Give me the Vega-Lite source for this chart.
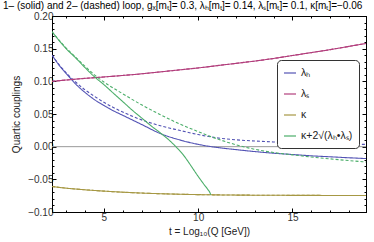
{
  "$schema": "https://vega.github.io/schema/vega-lite/v6.json",
  "width": 314,
  "height": 196,
  "autosize": {"type": "none"},
  "padding": {"left": 52, "top": 16, "right": 8, "bottom": 30},
  "title": {"text": "1– (solid) and 2– (dashed) loop, gₓ[mₜ]= 0.3, λₕ[mₜ]= 0.14, λₛ[mₜ]= 0.1, κ[mₜ]=−0.06", "anchor": "start", "frame": "group", "dx": -49, "offset": 0, "fontSize": 10, "font": "Liberation Sans", "fontWeight": "normal", "color": "#000"},
  "config": {
    "font": "Liberation Sans",
    "view": {"stroke": "#000", "strokeWidth": 1},
    "axis": {"grid": false, "domainColor": "#000", "tickColor": "#000", "labelColor": "#333", "labelFontSize": 10, "titleFontSize": 10, "titleFontWeight": "normal", "titleColor": "#222", "labelFont": "Liberation Sans", "titleFont": "Liberation Sans"}
  },
  "datasets": {
    "zero": [{"v": 0}],
    "curves": [
      {"s": "λₕ", "loop": "1", "t": 2.25, "v": 0.140},
      {"s": "λₕ", "loop": "1", "t": 2.7, "v": 0.122},
      {"s": "λₕ", "loop": "1", "t": 3, "v": 0.112},
      {"s": "λₕ", "loop": "1", "t": 3.5, "v": 0.096},
      {"s": "λₕ", "loop": "1", "t": 4, "v": 0.083},
      {"s": "λₕ", "loop": "1", "t": 4.5, "v": 0.072},
      {"s": "λₕ", "loop": "1", "t": 5, "v": 0.063},
      {"s": "λₕ", "loop": "1", "t": 5.5, "v": 0.055},
      {"s": "λₕ", "loop": "1", "t": 6, "v": 0.048},
      {"s": "λₕ", "loop": "1", "t": 7, "v": 0.034},
      {"s": "λₕ", "loop": "1", "t": 8, "v": 0.020},
      {"s": "λₕ", "loop": "1", "t": 9, "v": 0.0105},
      {"s": "λₕ", "loop": "1", "t": 10, "v": 0.0035},
      {"s": "λₕ", "loop": "1", "t": 11, "v": -0.0012},
      {"s": "λₕ", "loop": "1", "t": 12, "v": -0.0045},
      {"s": "λₕ", "loop": "1", "t": 13, "v": -0.0075},
      {"s": "λₕ", "loop": "1", "t": 14, "v": -0.010},
      {"s": "λₕ", "loop": "1", "t": 15, "v": -0.012},
      {"s": "λₕ", "loop": "1", "t": 16, "v": -0.014},
      {"s": "λₕ", "loop": "1", "t": 17, "v": -0.0155},
      {"s": "λₕ", "loop": "1", "t": 18, "v": -0.017},
      {"s": "λₕ", "loop": "1", "t": 18.9, "v": -0.0182},
      {"s": "λₕ", "loop": "2", "t": 2.25, "v": 0.140},
      {"s": "λₕ", "loop": "2", "t": 2.7, "v": 0.123},
      {"s": "λₕ", "loop": "2", "t": 3, "v": 0.113},
      {"s": "λₕ", "loop": "2", "t": 3.5, "v": 0.099},
      {"s": "λₕ", "loop": "2", "t": 4, "v": 0.087},
      {"s": "λₕ", "loop": "2", "t": 4.5, "v": 0.077},
      {"s": "λₕ", "loop": "2", "t": 5, "v": 0.068},
      {"s": "λₕ", "loop": "2", "t": 5.5, "v": 0.060},
      {"s": "λₕ", "loop": "2", "t": 6, "v": 0.053},
      {"s": "λₕ", "loop": "2", "t": 7, "v": 0.041},
      {"s": "λₕ", "loop": "2", "t": 8, "v": 0.032},
      {"s": "λₕ", "loop": "2", "t": 9, "v": 0.025},
      {"s": "λₕ", "loop": "2", "t": 10, "v": 0.0185},
      {"s": "λₕ", "loop": "2", "t": 11, "v": 0.0135},
      {"s": "λₕ", "loop": "2", "t": 12, "v": 0.0105},
      {"s": "λₕ", "loop": "2", "t": 13, "v": 0.0087},
      {"s": "λₕ", "loop": "2", "t": 14, "v": 0.0072},
      {"s": "λₕ", "loop": "2", "t": 15, "v": 0.006},
      {"s": "λₕ", "loop": "2", "t": 16, "v": 0.005},
      {"s": "λₕ", "loop": "2", "t": 17, "v": 0.0043},
      {"s": "λₕ", "loop": "2", "t": 18, "v": 0.0038},
      {"s": "λₕ", "loop": "2", "t": 18.9, "v": 0.0035},
      {"s": "λₛ", "loop": "1", "t": 2.25, "v": 0.100},
      {"s": "λₛ", "loop": "1", "t": 3, "v": 0.102},
      {"s": "λₛ", "loop": "1", "t": 4, "v": 0.1045},
      {"s": "λₛ", "loop": "1", "t": 5, "v": 0.1067},
      {"s": "λₛ", "loop": "1", "t": 6, "v": 0.109},
      {"s": "λₛ", "loop": "1", "t": 7, "v": 0.1115},
      {"s": "λₛ", "loop": "1", "t": 8, "v": 0.1145},
      {"s": "λₛ", "loop": "1", "t": 9, "v": 0.1175},
      {"s": "λₛ", "loop": "1", "t": 10, "v": 0.1205},
      {"s": "λₛ", "loop": "1", "t": 11, "v": 0.124},
      {"s": "λₛ", "loop": "1", "t": 12, "v": 0.1275},
      {"s": "λₛ", "loop": "1", "t": 13, "v": 0.131},
      {"s": "λₛ", "loop": "1", "t": 14, "v": 0.135},
      {"s": "λₛ", "loop": "1", "t": 15, "v": 0.1395},
      {"s": "λₛ", "loop": "1", "t": 16, "v": 0.144},
      {"s": "λₛ", "loop": "1", "t": 17, "v": 0.1485},
      {"s": "λₛ", "loop": "1", "t": 18, "v": 0.1535},
      {"s": "λₛ", "loop": "1", "t": 18.9, "v": 0.158},
      {"s": "λₛ", "loop": "2", "t": 2.25, "v": 0.100},
      {"s": "λₛ", "loop": "2", "t": 3, "v": 0.102},
      {"s": "λₛ", "loop": "2", "t": 4, "v": 0.1045},
      {"s": "λₛ", "loop": "2", "t": 5, "v": 0.1067},
      {"s": "λₛ", "loop": "2", "t": 6, "v": 0.109},
      {"s": "λₛ", "loop": "2", "t": 7, "v": 0.1115},
      {"s": "λₛ", "loop": "2", "t": 8, "v": 0.1145},
      {"s": "λₛ", "loop": "2", "t": 9, "v": 0.1175},
      {"s": "λₛ", "loop": "2", "t": 10, "v": 0.1205},
      {"s": "λₛ", "loop": "2", "t": 11, "v": 0.124},
      {"s": "λₛ", "loop": "2", "t": 12, "v": 0.1275},
      {"s": "λₛ", "loop": "2", "t": 13, "v": 0.131},
      {"s": "λₛ", "loop": "2", "t": 14, "v": 0.135},
      {"s": "λₛ", "loop": "2", "t": 15, "v": 0.1395},
      {"s": "λₛ", "loop": "2", "t": 16, "v": 0.144},
      {"s": "λₛ", "loop": "2", "t": 17, "v": 0.1485},
      {"s": "λₛ", "loop": "2", "t": 18, "v": 0.1535},
      {"s": "λₛ", "loop": "2", "t": 18.9, "v": 0.158},
      {"s": "κ", "loop": "1", "t": 2.25, "v": -0.061},
      {"s": "κ", "loop": "1", "t": 3, "v": -0.0635},
      {"s": "κ", "loop": "1", "t": 4, "v": -0.066},
      {"s": "κ", "loop": "1", "t": 5, "v": -0.068},
      {"s": "κ", "loop": "1", "t": 6, "v": -0.0697},
      {"s": "κ", "loop": "1", "t": 7, "v": -0.071},
      {"s": "κ", "loop": "1", "t": 8, "v": -0.072},
      {"s": "κ", "loop": "1", "t": 9, "v": -0.0728},
      {"s": "κ", "loop": "1", "t": 10, "v": -0.0734},
      {"s": "κ", "loop": "1", "t": 11, "v": -0.0738},
      {"s": "κ", "loop": "1", "t": 12, "v": -0.0741},
      {"s": "κ", "loop": "1", "t": 14, "v": -0.0744},
      {"s": "κ", "loop": "1", "t": 16, "v": -0.0746},
      {"s": "κ", "loop": "1", "t": 18.9, "v": -0.0747},
      {"s": "κ", "loop": "2", "t": 2.25, "v": -0.061},
      {"s": "κ", "loop": "2", "t": 3, "v": -0.0635},
      {"s": "κ", "loop": "2", "t": 4, "v": -0.066},
      {"s": "κ", "loop": "2", "t": 5, "v": -0.068},
      {"s": "κ", "loop": "2", "t": 6, "v": -0.0697},
      {"s": "κ", "loop": "2", "t": 7, "v": -0.071},
      {"s": "κ", "loop": "2", "t": 8, "v": -0.072},
      {"s": "κ", "loop": "2", "t": 9, "v": -0.0728},
      {"s": "κ", "loop": "2", "t": 10, "v": -0.0734},
      {"s": "κ", "loop": "2", "t": 11, "v": -0.0738},
      {"s": "κ", "loop": "2", "t": 12, "v": -0.0741},
      {"s": "κ", "loop": "2", "t": 14, "v": -0.0744},
      {"s": "κ", "loop": "2", "t": 16, "v": -0.0746},
      {"s": "κ", "loop": "2", "t": 18.9, "v": -0.0747},
      {"s": "κ+2√(λₕ•λₛ)", "loop": "1", "t": 2.25, "v": 0.176},
      {"s": "κ+2√(λₕ•λₛ)", "loop": "1", "t": 3, "v": 0.150},
      {"s": "κ+2√(λₕ•λₛ)", "loop": "1", "t": 3.5, "v": 0.136},
      {"s": "κ+2√(λₕ•λₛ)", "loop": "1", "t": 4, "v": 0.121},
      {"s": "κ+2√(λₕ•λₛ)", "loop": "1", "t": 4.5, "v": 0.107},
      {"s": "κ+2√(λₕ•λₛ)", "loop": "1", "t": 5, "v": 0.095},
      {"s": "κ+2√(λₕ•λₛ)", "loop": "1", "t": 5.5, "v": 0.082},
      {"s": "κ+2√(λₕ•λₛ)", "loop": "1", "t": 6, "v": 0.069},
      {"s": "κ+2√(λₕ•λₛ)", "loop": "1", "t": 6.5, "v": 0.056},
      {"s": "κ+2√(λₕ•λₛ)", "loop": "1", "t": 7, "v": 0.044},
      {"s": "κ+2√(λₕ•λₛ)", "loop": "1", "t": 7.5, "v": 0.032},
      {"s": "κ+2√(λₕ•λₛ)", "loop": "1", "t": 8, "v": 0.021},
      {"s": "κ+2√(λₕ•λₛ)", "loop": "1", "t": 8.5, "v": 0.009},
      {"s": "κ+2√(λₕ•λₛ)", "loop": "1", "t": 8.85, "v": -0.001},
      {"s": "κ+2√(λₕ•λₛ)", "loop": "1", "t": 9.25, "v": -0.014},
      {"s": "κ+2√(λₕ•λₛ)", "loop": "1", "t": 9.59, "v": -0.028},
      {"s": "κ+2√(λₕ•λₛ)", "loop": "1", "t": 9.94, "v": -0.043},
      {"s": "κ+2√(λₕ•λₛ)", "loop": "1", "t": 10.29, "v": -0.057},
      {"s": "κ+2√(λₕ•λₛ)", "loop": "1", "t": 10.5, "v": -0.065},
      {"s": "κ+2√(λₕ•λₛ)", "loop": "1", "t": 10.62, "v": -0.070},
      {"s": "κ+2√(λₕ•λₛ)", "loop": "1", "t": 10.67, "v": -0.0736},
      {"s": "κ+2√(λₕ•λₛ)", "loop": "2", "t": 2.25, "v": 0.176},
      {"s": "κ+2√(λₕ•λₛ)", "loop": "2", "t": 3, "v": 0.151},
      {"s": "κ+2√(λₕ•λₛ)", "loop": "2", "t": 3.5, "v": 0.137},
      {"s": "κ+2√(λₕ•λₛ)", "loop": "2", "t": 4, "v": 0.123},
      {"s": "κ+2√(λₕ•λₛ)", "loop": "2", "t": 4.5, "v": 0.110},
      {"s": "κ+2√(λₕ•λₛ)", "loop": "2", "t": 5, "v": 0.099},
      {"s": "κ+2√(λₕ•λₛ)", "loop": "2", "t": 6, "v": 0.081},
      {"s": "κ+2√(λₕ•λₛ)", "loop": "2", "t": 7, "v": 0.064},
      {"s": "κ+2√(λₕ•λₛ)", "loop": "2", "t": 8, "v": 0.049},
      {"s": "κ+2√(λₕ•λₛ)", "loop": "2", "t": 9, "v": 0.035},
      {"s": "κ+2√(λₕ•λₛ)", "loop": "2", "t": 10, "v": 0.023},
      {"s": "κ+2√(λₕ•λₛ)", "loop": "2", "t": 11, "v": 0.012},
      {"s": "κ+2√(λₕ•λₛ)", "loop": "2", "t": 12, "v": 0.003},
      {"s": "κ+2√(λₕ•λₛ)", "loop": "2", "t": 13, "v": -0.004},
      {"s": "κ+2√(λₕ•λₛ)", "loop": "2", "t": 14, "v": -0.009},
      {"s": "κ+2√(λₕ•λₛ)", "loop": "2", "t": 15, "v": -0.0125},
      {"s": "κ+2√(λₕ•λₛ)", "loop": "2", "t": 16, "v": -0.0158},
      {"s": "κ+2√(λₕ•λₛ)", "loop": "2", "t": 17, "v": -0.0187},
      {"s": "κ+2√(λₕ•λₛ)", "loop": "2", "t": 18, "v": -0.0213},
      {"s": "κ+2√(λₕ•λₛ)", "loop": "2", "t": 18.9, "v": -0.0235}
    ]
  },
  "resolve": {"axis": {"x": "independent", "y": "independent"}},
  "layer": [
    {
      "data": {"name": "zero"},
      "mark": {"type": "rule", "color": "#999", "strokeWidth": 1},
      "encoding": {"y": {"field": "v", "type": "quantitative", "axis": null}}
    },
    {
      "data": {"name": "curves"},
      "mark": {"type": "line", "interpolate": "monotone", "strokeWidth": 1.1, "clip": true},
      "encoding": {
        "x": {"field": "t", "type": "quantitative", "scale": {"domain": [2.25, 18.9], "nice": false, "zero": false},
          "axis": {"orient": "bottom", "values": [5, 10, 15], "tickSize": -4, "labelPadding": 4, "title": "t = Log₁₀(Q [GeV])", "titlePadding": 4}},
        "y": {"field": "v", "type": "quantitative", "scale": {"domain": [-0.1, 0.2], "nice": false, "zero": false},
          "axis": {"orient": "left", "values": [-0.1, -0.05, 0, 0.05, 0.1, 0.15, 0.2], "format": ".2f", "tickSize": -4, "labelPadding": 3, "title": "Quartic couplings", "titlePadding": 6}},
        "color": {"field": "s", "type": "nominal",
          "scale": {"domain": ["λₕ", "λₛ", "κ", "κ+2√(λₕ•λₛ)"], "range": ["#5252b4", "#b23e7c", "#a69844", "#4cae6a"]},
          "legend": {"orient": "none", "legendX": 225, "legendY": 44, "title": null, "strokeColor": "#333", "cornerRadius": 4, "fillColor": "#fff", "padding": 6, "symbolType": "stroke", "symbolSize": 144, "symbolStrokeWidth": 1.2, "labelFontSize": 10.5, "labelColor": "#222", "rowPadding": 8}},
        "strokeDash": {"field": "loop", "type": "nominal", "scale": {"domain": ["1", "2"], "range": [[1, 0], [3, 2]]}, "legend": null}
      }
    },
    {
      "data": {"name": "curves"},
      "mark": {"type": "point", "opacity": 0},
      "encoding": {
        "x": {"field": "t", "type": "quantitative", "axis": {"orient": "top", "values": [5, 10, 15], "tickSize": -4, "labels": false, "title": null}},
        "y": {"field": "v", "type": "quantitative", "axis": {"orient": "right", "values": [-0.1, -0.05, 0, 0.05, 0.1, 0.15, 0.2], "tickSize": -4, "labels": false, "title": null}}
      }
    },
    {
      "data": {"name": "curves"},
      "mark": {"type": "point", "opacity": 0},
      "encoding": {
        "x": {"field": "t", "type": "quantitative", "axis": {"orient": "bottom", "values": [3, 4, 6, 7, 8, 9, 11, 12, 13, 14, 16, 17, 18], "tickSize": -2, "labels": false, "title": null}},
        "y": {"field": "v", "type": "quantitative", "axis": {"orient": "left", "values": [-0.09, -0.08, -0.07, -0.06, -0.04, -0.03, -0.02, -0.01, 0.01, 0.02, 0.03, 0.04, 0.06, 0.07, 0.08, 0.09, 0.11, 0.12, 0.13, 0.14, 0.16, 0.17, 0.18, 0.19], "tickSize": -2, "labels": false, "title": null}}
      }
    },
    {
      "data": {"name": "curves"},
      "mark": {"type": "point", "opacity": 0},
      "encoding": {
        "x": {"field": "t", "type": "quantitative", "axis": {"orient": "top", "values": [3, 4, 6, 7, 8, 9, 11, 12, 13, 14, 16, 17, 18], "tickSize": -2, "labels": false, "title": null}},
        "y": {"field": "v", "type": "quantitative", "axis": {"orient": "right", "values": [-0.09, -0.08, -0.07, -0.06, -0.04, -0.03, -0.02, -0.01, 0.01, 0.02, 0.03, 0.04, 0.06, 0.07, 0.08, 0.09, 0.11, 0.12, 0.13, 0.14, 0.16, 0.17, 0.18, 0.19], "tickSize": -2, "labels": false, "title": null}}
      }
    }
  ]
}
